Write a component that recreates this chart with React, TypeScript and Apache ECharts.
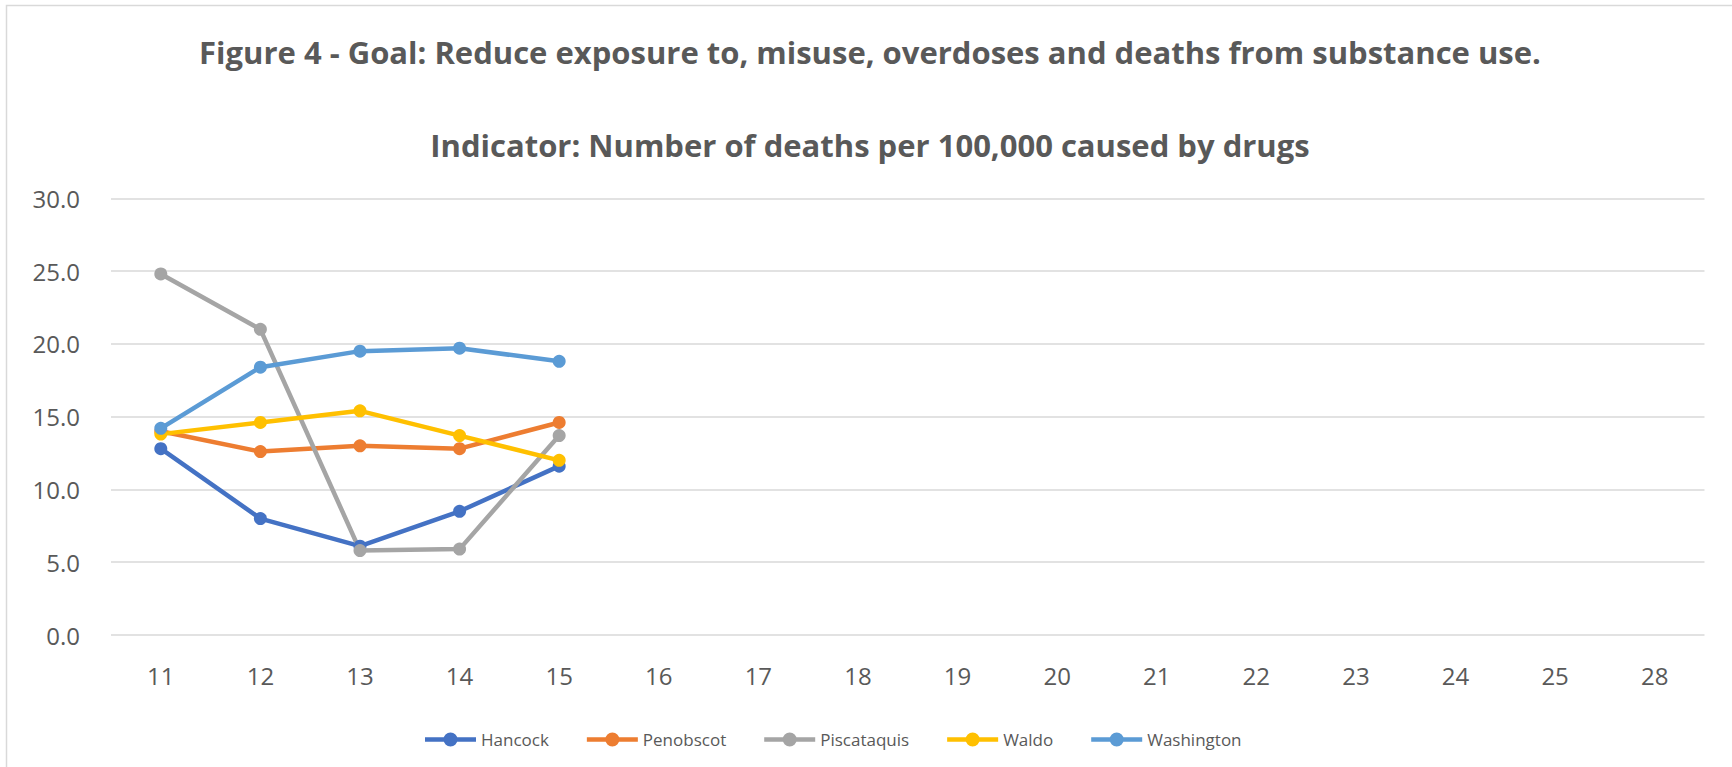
import React, { useEffect, useRef } from "react";
import * as echarts from "echarts";

const categories = ["11", "12", "13", "14", "15", "16", "17", "18", "19", "20", "21", "22", "23", "24", "25", "28"];
const hancock = [12.8, 8.0, 6.1, 8.5, 11.6];
const penobscot = [14.0, 12.6, 13.0, 12.8, 14.6];
const piscataquis = [24.8, 21.0, 5.8, 5.9, 13.7];
const waldo = [13.8, 14.6, 15.4, 13.7, 12.0];
const washington = [14.2, 18.4, 19.5, 19.7, 18.8];
const seriesNames = ["Hancock", "Penobscot", "Piscataquis", "Waldo", "Washington"];
const seriesColors = ["#4472C4", "#ED7D31", "#A5A5A5", "#FFC000", "#5B9BD5"];
const titleLine1 = "Figure 4 - Goal: Reduce exposure to, misuse, overdoses and deaths from substance use.";
const titleLine2 = "Indicator: Number of deaths per 100,000 caused by drugs";

const legendIcon =
  "path://M0,4.75H51V9.25H0Z M18.5,7A7,7 0 1,1 32.5,7A7,7 0 1,1 18.5,7Z";

export default function App() {
  const ref = useRef<HTMLDivElement>(null);
  useEffect(() => {
    document.body.style.margin = "0";
    const chart = echarts.init(ref.current!, null, { renderer: "svg" });
    const data = [hancock, penobscot, piscataquis, waldo, washington];
    const font = "'Open Sans', sans-serif";
    chart.setOption({
      animation: false,
      backgroundColor: "#ffffff",
      graphic: [
        {
          type: "rect",
          shape: { x: 6.5, y: 5.5, width: 2000, height: 1000 },
          style: { fill: "none", stroke: "#d9d9d9", lineWidth: 1.5 },
          silent: true,
        },
        {
          type: "text",
          x: 870,
          y: 52,
          style: {
            text: titleLine1,
            fill: "#595959",
            font: `bold 31px ${font}`,
            textAlign: "center",
            textVerticalAlign: "middle",
          },
        },
        {
          type: "text",
          x: 870,
          y: 145,
          style: {
            text: titleLine2,
            fill: "#595959",
            font: `bold 31px ${font}`,
            textAlign: "center",
            textVerticalAlign: "middle",
          },
        },
      ],
      grid: { left: 111, right: 27.5, top: 198.3, bottom: 132 },
      legend: {
        left: 420,
        top: 726,
        icon: legendIcon,
        itemWidth: 51,
        itemHeight: 14,
        itemGap: 38,
        textStyle: { color: "#595959", fontSize: 17, fontFamily: font },
        data: seriesNames,
      },
      xAxis: {
        type: "category",
        data: categories,
        boundaryGap: true,
        axisLine: { show: false },
        axisTick: { show: false },
        axisLabel: { color: "#595959", fontSize: 24, fontFamily: font, margin: 28 },
      },
      yAxis: {
        type: "value",
        min: 0,
        max: 30,
        interval: 5,
        axisLine: { show: false },
        axisTick: { show: false },
        splitLine: { lineStyle: { color: "#d9d9d9", width: 1.5 } },
        axisLabel: {
          color: "#595959",
          fontSize: 24,
          fontFamily: font,
          margin: 31,
          formatter: (v: number) => v.toFixed(1),
        },
      },
      series: seriesNames.map((name, i) => ({
        name,
        type: "line",
        data: data[i],
        symbol: "circle",
        symbolSize: 13,
        color: seriesColors[i],
        lineStyle: { width: 4.5, color: seriesColors[i] },
        itemStyle: { color: seriesColors[i] },
      })),
    });
    return () => chart.dispose();
  }, []);
  return <div ref={ref} style={{ width: 1732, height: 767 }} />;
}
